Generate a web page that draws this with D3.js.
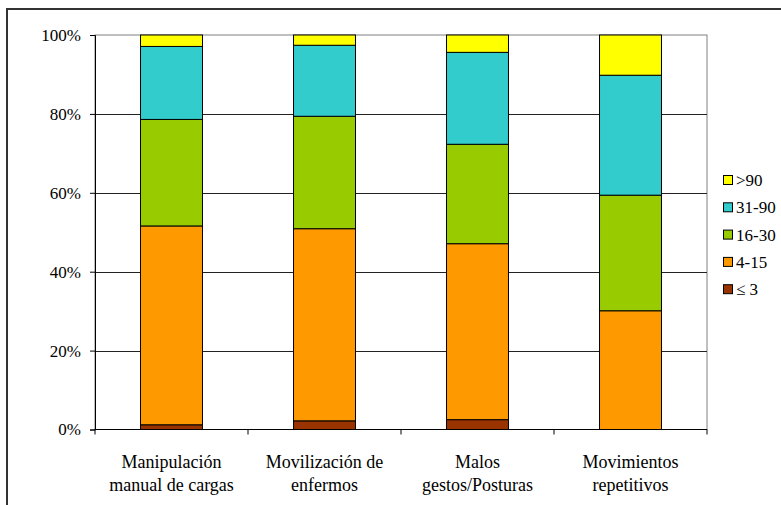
<!DOCTYPE html>
<html>
<head>
<meta charset="utf-8">
<script src="https://cdn.jsdelivr.net/npm/d3@7"></script>
<style>
  body { margin: 0; background: #fff; }
</style>
</head>
<body>
<svg id="chart" width="781" height="505"></svg>
<script>
// categories (line breaks as in the picture)
let categories = ["Manipulación\nmanual de cargas", "Movilización de\nenfermos", "Malos\ngestos/Posturas", "Movimientos\nrepetitivos"];
let groups = ["≤ 3", "4-15", "16-30", "31-90", ">90"];
let colors = ["#993300", "#FF9900", "#99CC00", "#33CCCC", "#FFFF00"];
// percentage of each group, per category
let le3   = [1.2, 2.2, 2.5, 0];
let d4_15 = [50.4, 48.7, 44.6, 30.1];
let d16_30 = [27.0, 28.5, 25.2, 29.3];
let d31_90 = [18.5, 18.0, 23.3, 30.4];
let gt90  = [2.9, 2.6, 4.4, 10.2];
let yTicks = [0, 20, 40, 60, 80, 100];

let margin = {top: 35, bottom: 75.5, left: 95, right: 74};
let width = 781, height = 505;
const serif = "'Liberation Serif', 'DejaVu Serif', serif";

const series = [le3, d4_15, d16_30, d31_90, gt90];
const table = categories.map((c, i) => {
  let row = {cat: c};
  groups.forEach((g, j) => row[g] = series[j][i]);
  return row;
});
const stacked = d3.stack().keys(groups)(table);

const svg = d3.select("#chart");

// outer frame
svg.append("rect")
  .attr("x", 7).attr("y", 9)
  .attr("width", 790).attr("height", 520)
  .attr("fill", "none").attr("stroke", "#333").attr("stroke-width", 2);

let x = d3.scaleBand()
  .domain(categories)
  .range([margin.left, width - margin.right])
  .padding(0);
let y = d3.scaleLinear()
  .domain([0, 100])
  .range([height - margin.bottom, margin.top]);

// plot area border
svg.append("rect")
  .attr("x", margin.left).attr("y", margin.top)
  .attr("width", width - margin.right - margin.left)
  .attr("height", y(0) - margin.top)
  .attr("fill", "none").attr("stroke", "#808080").attr("stroke-width", 1);

// gridlines
svg.append("g")
  .selectAll("line")
  .data(yTicks.filter(d => d > 0 && d < 100))
  .enter().append("line")
  .attr("x1", margin.left).attr("x2", width - margin.right)
  .attr("y1", d => Math.round(y(d)) + 0.5).attr("y2", d => Math.round(y(d)) + 0.5)
  .attr("stroke", "#222").attr("stroke-width", 1);

// bars
const bw = x.bandwidth() * 0.405;
svg.append("g")
  .selectAll("g")
  .data(stacked)
  .enter().append("g")
  .attr("fill", (d, i) => colors[i])
  .selectAll("rect")
  .data(d => d.filter(p => p[1] - p[0] > 0))
  .enter().append("rect")
  .attr("x", d => x(d.data.cat) + (x.bandwidth() - bw) / 2)
  .attr("y", d => y(d[1]))
  .attr("width", bw)
  .attr("height", d => y(d[0]) - y(d[1]))
  .attr("stroke", "#000").attr("stroke-width", 1);

// y axis
let yAxis = d3.axisLeft(y)
  .tickValues(yTicks)
  .tickSize(5)
  .tickFormat(d => d + "%");
let ya = svg.append("g")
  .attr("transform", "translate(" + margin.left + ",0)")
  .call(yAxis);
ya.attr("font-family", serif).attr("font-size", 17);
ya.select(".domain").attr("stroke", "#000");
ya.selectAll(".tick line").attr("stroke", "#000");
ya.selectAll(".tick text")
  .attr("x", -14)
  .attr("fill", "#000");

// x axis: tick marks at the category borders
let xa = svg.append("g")
  .attr("transform", "translate(0," + y(0) + ")");
xa.append("line")
  .attr("x1", margin.left).attr("x2", width - margin.right)
  .attr("stroke", "#000");
xa.selectAll(".xt")
  .data(categories.map(c => x(c)).concat([width - margin.right]))
  .enter().append("line")
  .attr("class", "xt")
  .attr("x1", d => d).attr("x2", d => d)
  .attr("y1", 0).attr("y2", 5)
  .attr("stroke", "#000");
xa.selectAll(".xl")
  .data(categories)
  .enter().append("text")
  .attr("class", "xl")
  .attr("text-anchor", "middle")
  .attr("font-family", serif)
  .attr("font-size", 18)
  .attr("transform", d => "translate(" + (x(d) + x.bandwidth() / 2) + ",38)")
  .selectAll("tspan")
  .data(d => d.split("\n"))
  .enter().append("tspan")
  .attr("x", 0)
  .attr("y", (d, i) => i * 23)
  .text(d => d);

// legend, top to bottom >90 ... ≤ 3
let legend = svg.append("g")
  .selectAll("g")
  .data(groups.map((g, i) => ({g: g, c: colors[i]})).reverse())
  .enter().append("g")
  .attr("transform", (d, i) => "translate(723," + (175 + i * 27.3) + ")");
legend.append("rect")
  .attr("x", 0.5).attr("y", 0.5)
  .attr("width", 9).attr("height", 9)
  .attr("fill", d => d.c)
  .attr("stroke", "#000");
legend.append("text")
  .attr("x", 13).attr("y", 11)
  .attr("font-family", serif)
  .attr("font-size", 17)
  .text(d => d.g);
</script>
</body>
</html>
